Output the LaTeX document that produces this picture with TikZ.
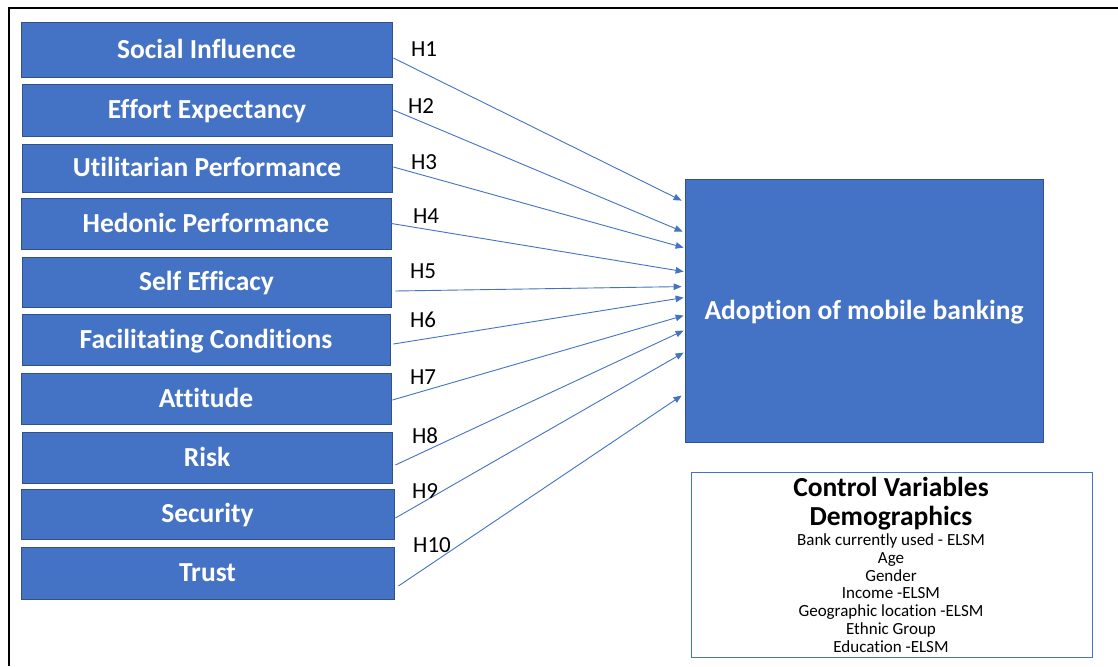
\documentclass[tikz,border=0pt]{standalone}
\usepackage{fontspec}
\setmainfont{Carlito}[Ligatures=NoCommon]
\usetikzlibrary{arrows.meta,calc}
\definecolor{boxblue}{HTML}{4472C4}
\definecolor{boxedge}{HTML}{2F528F}
\begin{document}
\begin{tikzpicture}[x=1pt,y=-1pt,
  factor/.style={draw=boxedge, line width=0.8pt, fill=boxblue, text=white,
    font=\fontsize{27.5}{30}\selectfont\bfseries, inner sep=0pt,
    text height=17.7pt, text depth=0pt},
  hyp/.style={font=\fontsize{23}{26}\selectfont, text=black, inner sep=0pt,
    text height=14.8pt, text depth=0pt},
  link/.style={draw=boxblue, line width=0.9pt, -{Triangle[length=8pt,width=6.5pt]}},
  ctlhead/.style={font=\fontsize{27.5}{30}\selectfont\bfseries, anchor=base, inner sep=0pt},
  ctlitem/.style={font=\fontsize{17}{18}\selectfont, anchor=base, inner sep=0pt}]
\useasboundingbox (0,0) rectangle (1118,666);
\fill[white] (0,0) rectangle (1118,666);
% frame
\draw[line width=2pt, black] (8.5,666) -- (8.5,8.5) -- (1118,8.5);

% factor boxes
\node[factor, minimum width=371pt, minimum height=55pt] (si)  at (206.5,49.5)  {Social Influence};
\node[factor, minimum width=370pt, minimum height=52pt] (ee)  at (207,110)     {Effort Expectancy};
\node[factor, minimum width=370pt, minimum height=48pt] (up)  at (207,168)     {Utilitarian Performance};
\node[factor, minimum width=370pt, minimum height=51pt] (hp)  at (206,223.5)   {Hedonic Performance};
\node[factor, minimum width=369pt, minimum height=50pt] (se)  at (206.5,282)   {Self Efficacy};
\node[factor, minimum width=368pt, minimum height=51pt] (fc)  at (206,339.5)   {Facilitating Conditions};
\node[factor, minimum width=370pt, minimum height=51pt] (att) at (206,398.5)   {Attitude};
\node[factor, minimum width=370pt, minimum height=51pt] (risk) at (207,457.5)  {Risk};
\node[factor, minimum width=373pt, minimum height=50pt] (sec) at (207.5,514)   {Security};
\node[factor, minimum width=373pt, minimum height=52pt] (tr)  at (207.5,573)   {Trust};

% outcome box
\node[factor, minimum width=358pt, minimum height=263pt] (adopt) at (864,310.5) {Adoption of mobile banking};

% control variables
\node[draw=boxblue, line width=0.9pt, minimum width=401pt, minimum height=185pt, inner sep=0pt] (ctl) at (891.5,564.5) {};
\node[ctlhead] (c1) at (891,496) {Control Variables};
\node[ctlhead] (c2) at (891,525.5) {Demographics};
\node[ctlitem] (c3) at (891,545.5) {Bank currently used - ELSM};
\node[ctlitem] (c4) at (891,563.3) {Age};
\node[ctlitem] (c5) at (891,581.1) {Gender};
\node[ctlitem] (c6) at (891,598.9) {Income -ELSM};
\node[ctlitem] (c7) at (891,616.7) {Geographic location -ELSM};
\node[ctlitem] (c8) at (891,634.5) {Ethnic Group};
\node[ctlitem] (c9) at (891,652.3) {Education -ELSM};

% hypothesis paths
\draw[link] ($(si.east)+(1,8.5)$)   -- ($(adopt.north west)+(-3,22)$);
\draw[link] ($(ee.east)+(1,0)$)     -- ($(adopt.north west)+(-2,53)$);
\draw[link] ($(up.east)+(1,-1)$)    -- ($(adopt.north west)+(-1,69)$);
\draw[link] ($(hp.east)+(0,0)$)     -- ($(adopt.north west)+(-1,93)$);
\draw[link] ($(se.east)+(4,9)$)     -- ($(adopt.north west)+(-3,108)$);
\draw[link] ($(fc.east)+(3,4.5)$)   -- ($(adopt.north west)+(-1,119)$);
\draw[link] ($(att.east)+(1,1.5)$)  -- ($(adopt.north west)+(-1,137)$);
\draw[link] ($(risk.east)+(3,7.5)$) -- ($(adopt.north west)+(-1,152)$);
\draw[link] ($(sec.east)+(1,4)$)    -- ($(adopt.north west)+(-1,174)$);
\draw[link] ($(tr.east)+(4,13)$)    -- ($(adopt.north west)+(-3,217)$);

% hypothesis labels
\node[hyp] (h1)  at (424,49.5)  {H1};
\node[hyp] (h2)  at (421,106)   {H2};
\node[hyp] (h3)  at (424,162)   {H3};
\node[hyp] (h4)  at (426,216)   {H4};
\node[hyp] (h5)  at (423,271)   {H5};
\node[hyp] (h6)  at (423,320)   {H6};
\node[hyp] (h7)  at (423,377)   {H7};
\node[hyp] (h8)  at (425,436)   {H8};
\node[hyp] (h9)  at (425,491)   {H9};
\node[hyp] (h10) at (432,545)   {H10};
\end{tikzpicture}
\end{document}
